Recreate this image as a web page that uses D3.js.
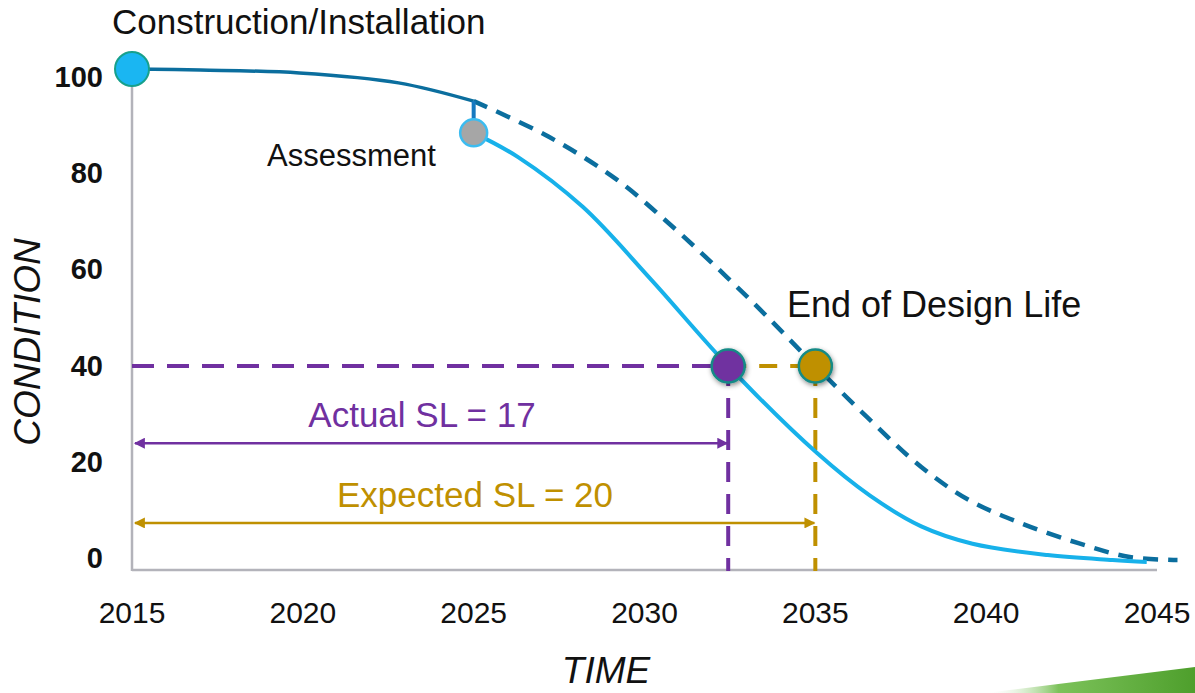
<!DOCTYPE html>
<html lang="en-US">
  <head>
    <meta charset="utf-8" />
    <title>Condition over time</title>
    <script src="https://d3js.org/d3.v7.min.js"></script>
    <style>
      body { margin: 0; background: #fff; }
      svg { display: block; font-family: "Liberation Sans", Arial, sans-serif; }
    </style>
  </head>
  <body>
    <div id="chart"></div>

    <script>
      // tick labels
      var yearTicks = [2015, 2020, 2025, 2030, 2035, 2040, 2045];
      var conditionTicks = [0, 20, 40, 60, 80, 100];

      // original design curve (solid part, then dashed expected part)
      var designYears = [2015, 2017, 2019.9, 2022.8, 2025];
      var designCondition = [100, 99.8, 99.2, 97.2, 93.5];

      var expectedYears = [2025, 2027.2, 2029.2, 2030.7, 2032.1, 2033.5, 2035, 2036.6, 2038.1, 2039.5, 2041, 2042.7, 2044.2, 2045.6];
      var expectedCondition = [93.5, 86.3, 77.6, 68.9, 60, 50.6, 40, 29.1, 19.6, 12.9, 8.3, 4.2, 1.4, 0.8];

      // curve after the assessment
      var actualYears = [2025, 2026.3, 2028.2, 2030.2, 2032.45, 2035.05, 2036.6, 2038.1, 2039.6, 2041.8, 2043.7, 2044.7];
      var actualCondition = [87.1, 82.2, 72.1, 57.4, 40, 22.4, 13.8, 7.6, 4.1, 1.8, 0.8, 0.4];

      // key events
      var installYear = 2015, installCondition = 100;
      var assessYear = 2025, assessCondition = 87.1, assessFrom = 93.5;
      var failCondition = 40;
      var actualEndYear = 2032.45;
      var expectedEndYear = 2035;
      var actualSL = 17, expectedSL = 20;

      var width = 1195;
      var height = 693;

      var darkBlue = "#0b6e9e";
      var lightBlue = "#17b1ea";
      var purple = "#7030a0";
      var gold = "#bf9000";
      var axisGrey = "#b3b3ba";

      var x = d3.scaleLinear().domain([2015, 2045]).range([132, 1157]);
      var y = d3.scaleLinear().domain([0, 100]).range([564, 69]);
      // label baselines sit a little off the data scale in the original slide
      var yLabel = d3.scaleLinear().domain([0, 100]).range([568, 87]);

      var svg = d3
        .select("#chart")
        .append("svg")
        .attr("width", width)
        .attr("height", height);

      var defs = svg.append("defs");

      defs
        .append("filter")
        .attr("id", "shadow")
        .attr("x", "-50%")
        .attr("y", "-50%")
        .attr("width", "200%")
        .attr("height", "200%")
        .append("feDropShadow")
        .attr("dx", 1)
        .attr("dy", 2)
        .attr("stdDeviation", 2.5)
        .attr("flood-color", "#000")
        .attr("flood-opacity", 0.45);

      function arrowMarker(id, color) {
        defs
          .append("marker")
          .attr("id", id)
          .attr("viewBox", "0 0 10 10")
          .attr("refX", 9)
          .attr("refY", 5)
          .attr("markerUnits", "userSpaceOnUse")
          .attr("markerWidth", 12)
          .attr("markerHeight", 11)
          .attr("orient", "auto-start-reverse")
          .append("path")
          .attr("d", "M0,0L10,5L0,10Z")
          .attr("fill", color);
      }
      arrowMarker("arrow-purple", purple);
      arrowMarker("arrow-gold", gold);

      var grad = defs
        .append("linearGradient")
        .attr("id", "green")
        .attr("x1", "0%")
        .attr("x2", "100%")
        .attr("y1", "0%")
        .attr("y2", "0%");
      grad.append("stop").attr("offset", "0%").attr("stop-color", "#ffffff").attr("stop-opacity", 0);
      grad.append("stop").attr("offset", "35%").attr("stop-color", "#7cc25a");
      grad.append("stop").attr("offset", "100%").attr("stop-color", "#4e9f2c");

      // green corner decoration
      svg
        .append("path")
        .attr("d", "M985,693L1195,667L1195,693Z")
        .attr("fill", "url(#green)");

      // axes
      svg
        .append("line")
        .attr("x1", x(2015))
        .attr("x2", x(2045))
        .attr("y1", 570)
        .attr("y2", 570)
        .attr("stroke", axisGrey)
        .attr("stroke-width", 2.5);

      svg
        .append("line")
        .attr("x1", x(2015))
        .attr("x2", x(2015))
        .attr("y1", y(100))
        .attr("y2", 571)
        .attr("stroke", axisGrey)
        .attr("stroke-width", 2.5);

      svg
        .selectAll(".xtick")
        .data(yearTicks)
        .enter()
        .append("text")
        .attr("class", "xtick")
        .attr("x", (d) => x(d))
        .attr("y", 623)
        .attr("text-anchor", "middle")
        .attr("font-size", 30)
        .attr("fill", "#111")
        .text((d) => d);

      svg
        .selectAll(".ytick")
        .data(conditionTicks)
        .enter()
        .append("text")
        .attr("class", "ytick")
        .attr("x", 103)
        .attr("y", (d) => yLabel(d))
        .attr("text-anchor", "end")
        .attr("font-size", 29)
        .attr("font-weight", "bold")
        .attr("fill", "#111")
        .text((d) => d);

      svg
        .append("text")
        .attr("transform", "translate(40,342) rotate(-90)")
        .attr("text-anchor", "middle")
        .attr("font-size", 37)
        .attr("font-style", "italic")
        .attr("fill", "#111")
        .text("CONDITION");

      svg
        .append("text")
        .attr("x", 606)
        .attr("y", 683)
        .attr("text-anchor", "middle")
        .attr("font-size", 37)
        .attr("font-style", "italic")
        .attr("fill", "#111")
        .text("TIME");

      // failure threshold guides
      svg
        .append("line")
        .attr("x1", x(2015))
        .attr("x2", x(actualEndYear))
        .attr("y1", y(failCondition))
        .attr("y2", y(failCondition))
        .attr("stroke", purple)
        .attr("stroke-width", 4)
        .attr("stroke-dasharray", "22,13");

      svg
        .append("line")
        .attr("x1", x(actualEndYear))
        .attr("x2", x(expectedEndYear))
        .attr("y1", y(failCondition))
        .attr("y2", y(failCondition))
        .attr("stroke", gold)
        .attr("stroke-width", 4)
        .attr("stroke-dasharray", "18,13");

      svg
        .append("line")
        .attr("x1", x(actualEndYear))
        .attr("x2", x(actualEndYear))
        .attr("y1", y(failCondition))
        .attr("y2", 571)
        .attr("stroke", purple)
        .attr("stroke-width", 4)
        .attr("stroke-dasharray", "20,12");

      svg
        .append("line")
        .attr("x1", x(expectedEndYear))
        .attr("x2", x(expectedEndYear))
        .attr("y1", y(failCondition))
        .attr("y2", 571)
        .attr("stroke", gold)
        .attr("stroke-width", 4)
        .attr("stroke-dasharray", "20,12");

      // service life arrows
      svg
        .append("line")
        .attr("x1", x(2015) + 3)
        .attr("x2", x(actualEndYear) - 1)
        .attr("y1", y(24.4))
        .attr("y2", y(24.4))
        .attr("stroke", purple)
        .attr("stroke-width", 2.5)
        .attr("marker-start", "url(#arrow-purple)")
        .attr("marker-end", "url(#arrow-purple)");

      svg
        .append("line")
        .attr("x1", x(2015) + 3)
        .attr("x2", x(expectedEndYear) - 1)
        .attr("y1", y(8.3))
        .attr("y2", y(8.3))
        .attr("stroke", gold)
        .attr("stroke-width", 2.5)
        .attr("marker-start", "url(#arrow-gold)")
        .attr("marker-end", "url(#arrow-gold)");

      svg
        .append("text")
        .attr("x", 422)
        .attr("y", 427)
        .attr("text-anchor", "middle")
        .attr("font-size", 35)
        .attr("fill", purple)
        .text("Actual SL = " + actualSL);

      svg
        .append("text")
        .attr("x", 475)
        .attr("y", 507)
        .attr("text-anchor", "middle")
        .attr("font-size", 35)
        .attr("fill", gold)
        .text("Expected SL = " + expectedSL);

      // curves
      var line = d3
        .line()
        .x((d) => x(d[0]))
        .y((d) => y(d[1]))
        .curve(d3.curveCatmullRom.alpha(0.5));

      svg
        .append("path")
        .attr("d", line(d3.zip(expectedYears, expectedCondition)))
        .attr("fill", "none")
        .attr("stroke", darkBlue)
        .attr("stroke-width", 4.5)
        .attr("stroke-dasharray", "15,10");

      svg
        .append("path")
        .attr("d", line(d3.zip(designYears, designCondition)))
        .attr("fill", "none")
        .attr("stroke", darkBlue)
        .attr("stroke-width", 3.5);

      svg
        .append("path")
        .attr("d", line(d3.zip(actualYears, actualCondition)))
        .attr("fill", "none")
        .attr("stroke", lightBlue)
        .attr("stroke-width", 4);

      // assessment drop
      svg
        .append("line")
        .attr("x1", x(assessYear))
        .attr("x2", x(assessYear))
        .attr("y1", y(assessFrom))
        .attr("y2", y(assessCondition))
        .attr("stroke", "#1679c0")
        .attr("stroke-width", 4);

      // markers
      svg
        .append("circle")
        .attr("cx", x(installYear))
        .attr("cy", y(installCondition))
        .attr("r", 17)
        .attr("fill", "#1ab6f2")
        .attr("stroke", "#17a08c")
        .attr("stroke-width", 2);

      svg
        .append("circle")
        .attr("cx", x(assessYear))
        .attr("cy", y(assessCondition))
        .attr("r", 13.5)
        .attr("fill", "#a6a6a6")
        .attr("stroke", "#3cbcf0")
        .attr("stroke-width", 2.5);

      svg
        .append("circle")
        .attr("cx", x(actualEndYear))
        .attr("cy", y(failCondition))
        .attr("r", 16.5)
        .attr("fill", purple)
        .attr("stroke", "#138a86")
        .attr("stroke-width", 2.5)
        .attr("filter", "url(#shadow)");

      svg
        .append("circle")
        .attr("cx", x(expectedEndYear))
        .attr("cy", y(failCondition))
        .attr("r", 16.5)
        .attr("fill", gold)
        .attr("stroke", "#138a86")
        .attr("stroke-width", 2.5)
        .attr("filter", "url(#shadow)");

      // annotations
      svg
        .append("text")
        .attr("x", 112)
        .attr("y", 34)
        .attr("font-size", 35)
        .attr("fill", "#111")
        .text("Construction/Installation");

      svg
        .append("text")
        .attr("x", 267)
        .attr("y", 166)
        .attr("font-size", 31)
        .attr("fill", "#111")
        .text("Assessment");

      svg
        .append("text")
        .attr("x", 787)
        .attr("y", 317)
        .attr("font-size", 36)
        .attr("fill", "#111")
        .text("End of Design Life");
    </script>
  </body>
</html>
